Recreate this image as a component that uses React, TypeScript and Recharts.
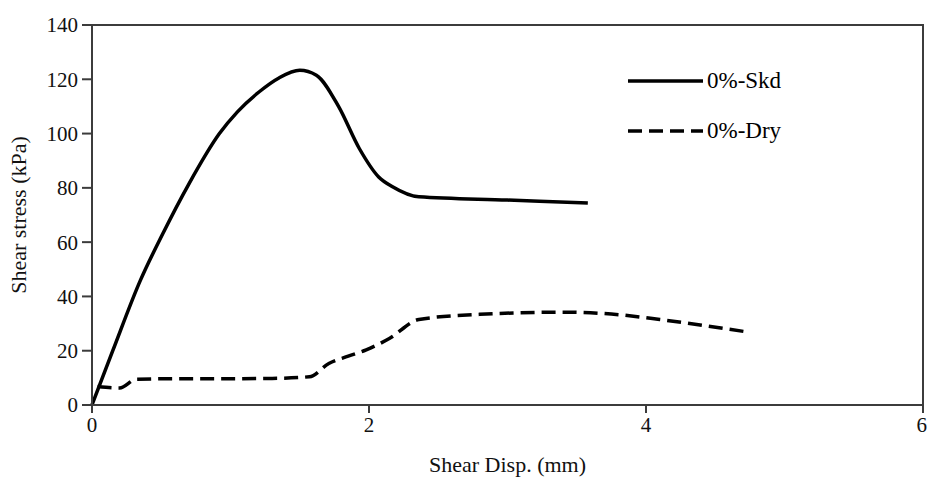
import { LineChart, Line, XAxis, YAxis, Legend, ReferenceArea } from "recharts";

// Shear displacement (mm) / shear stress (kPa)
const SKD_X = [0, 0.15, 0.35, 0.51, 0.7, 0.92, 1.05, 1.21, 1.35, 1.5, 1.62, 1.78, 1.93, 2.07, 2.17, 2.36, 3.0, 3.58];
const SKD_Y = [0, 20, 46, 63, 81.5, 100, 108, 115.5, 120.5, 123.3, 121.5, 110, 94.5, 84, 80.4, 76.7, 75.5, 74.4];

const DRY_X = [0.04, 0.2, 0.32, 0.6, 1.0, 1.3, 1.57, 1.71, 1.85, 1.98, 2.15, 2.36, 2.8, 3.4, 3.75, 4.1, 4.72];
const DRY_Y = [6.8, 6.3, 9.5, 9.7, 9.7, 9.8, 10.4, 15.3, 18, 20.3, 24.6, 31.5, 33.4, 34.2, 33.5, 31.5, 27];

const X_TICKS = [0, 2, 4, 6];
const Y_TICKS = [0, 20, 40, 60, 80, 100, 120, 140];

const SERIES = [
  { name: "0%-Skd", xs: SKD_X, ys: SKD_Y, dash: undefined as string | undefined },
  { name: "0%-Dry", xs: DRY_X, ys: DRY_Y, dash: "14 7" },
];

const FONT = '"Liberation Serif", "Times New Roman", serif';
const AXIS = "#3c3c3c";

function LegendBox() {
  return (
    <div style={{ fontFamily: FONT, fontSize: 23, color: "#000" }}>
      {SERIES.map((s, i) => (
        <div key={s.name} style={{ display: "flex", alignItems: "center", height: 26, marginTop: i ? 24 : 0 }}>
          <svg width={78} height={8}>
            <line x1={1} y1={4} x2={76} y2={4} stroke="#000" strokeWidth={3.5} strokeDasharray={s.dash} />
          </svg>
          <span style={{ marginLeft: 2 }}>{s.name}</span>
        </div>
      ))}
    </div>
  );
}

export default function App() {
  return (
    <div style={{ position: "absolute", left: 0, top: 0, fontFamily: FONT }}>
      <LineChart width={927} height={484} margin={{ top: 25, right: 4, bottom: 0, left: 0 }}>
        <XAxis
          type="number"
          dataKey="x"
          domain={[0, 6]}
          ticks={X_TICKS}
          allowDuplicatedCategory={false}
          height={79}
          stroke={AXIS}
          strokeWidth={2}
          tickSize={8}
          tickMargin={4}
          tick={{ fontSize: 21, fill: "#111", fontFamily: FONT }}
          label={{ value: "Shear Disp. (mm)", position: "insideBottom", offset: 12, fontSize: 22, fill: "#111", fontFamily: FONT }}
        />
        <YAxis
          type="number"
          domain={[0, 140]}
          ticks={Y_TICKS}
          width={92}
          stroke={AXIS}
          strokeWidth={2}
          tickSize={10}
          tickMargin={4}
          tick={{ fontSize: 21, fill: "#111", fontFamily: FONT }}
          label={{
            value: "Shear stress (kPa)",
            angle: -90,
            position: "insideLeft",
            offset: 18,
            fontSize: 22,
            fill: "#111",
            fontFamily: FONT,
            style: { textAnchor: "middle" },
          }}
        />
        <ReferenceArea x1={0} x2={6} y1={0} y2={140} fill="none" stroke={AXIS} strokeWidth={2} />
        {SERIES.map((s) => (
          <Line
            key={s.name}
            name={s.name}
            data={s.xs.map((x, i) => ({ x, y: s.ys[i] }))}
            dataKey="y"
            type="monotone"
            stroke="#000"
            strokeWidth={3.5}
            strokeDasharray={s.dash}
            dot={false}
            isAnimationActive={false}
          />
        ))}
        <Legend
          layout="vertical"
          align="center"
          verticalAlign="middle"
          content={() => <LegendBox />}
          wrapperStyle={{ position: "absolute", left: 627, top: 68, width: 220 }}
        />
      </LineChart>
    </div>
  );
}
